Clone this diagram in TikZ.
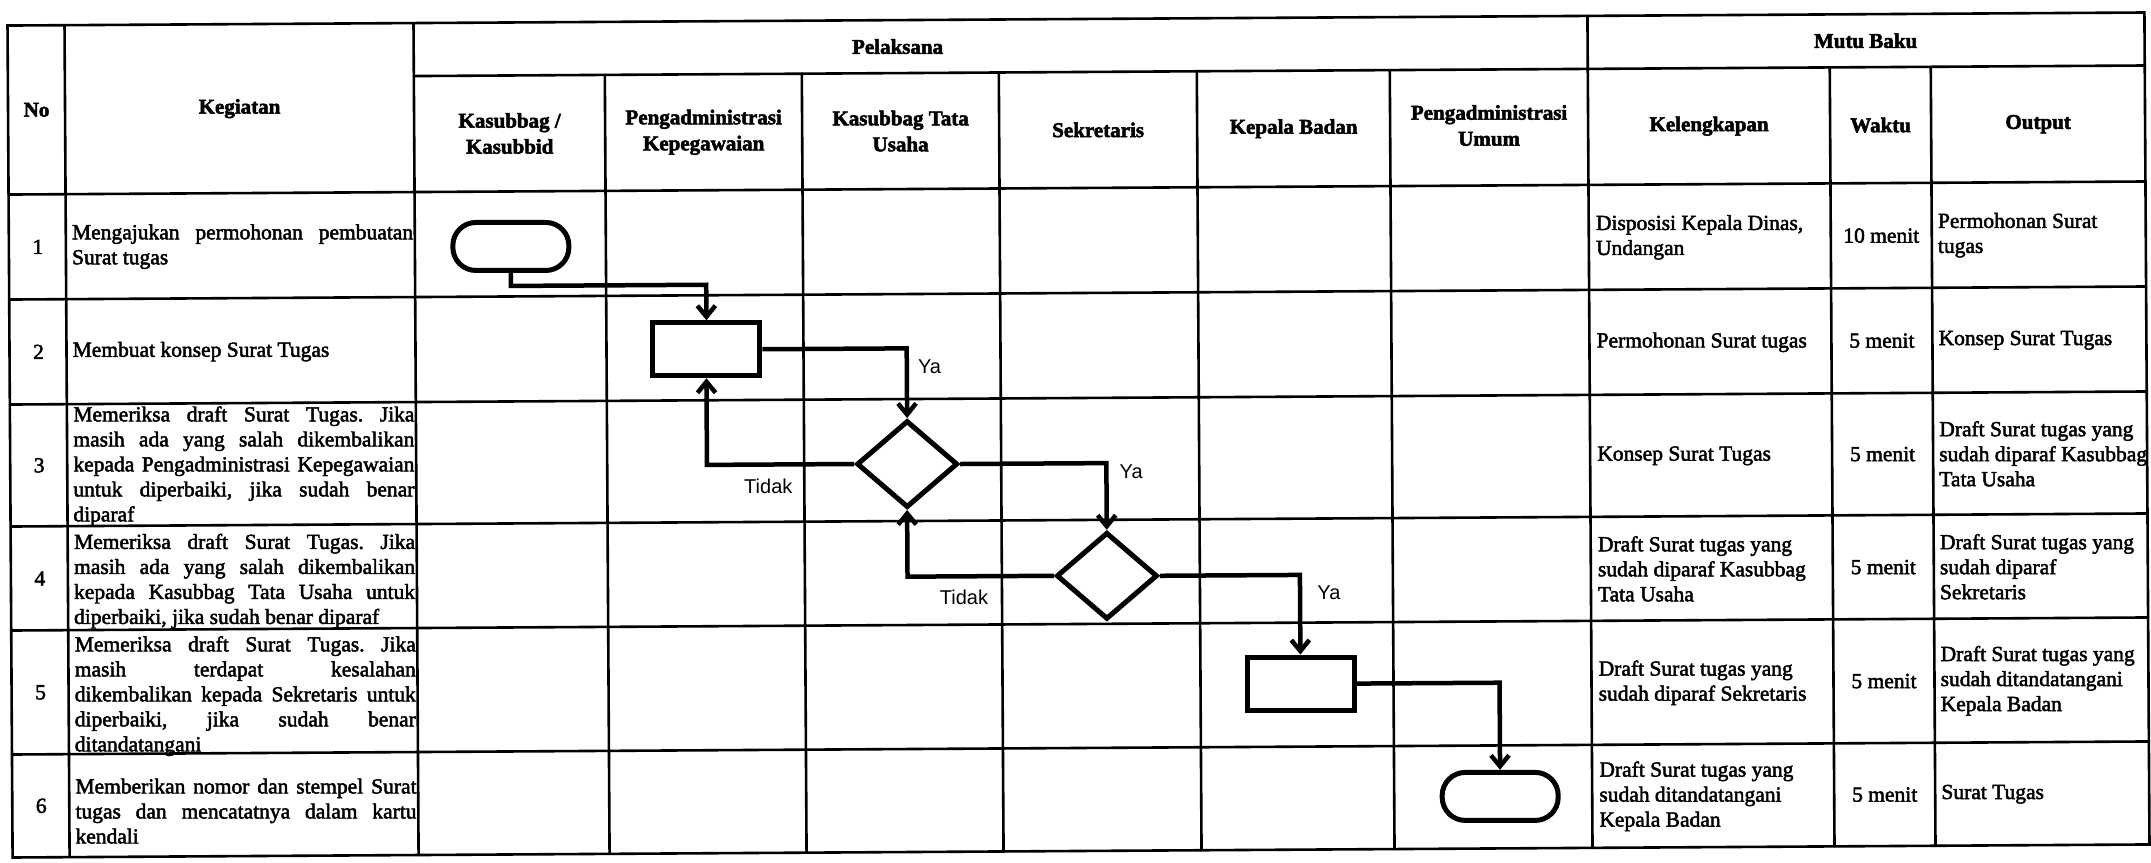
\documentclass[tikz,border=0pt]{standalone}
\usepackage{fontspec}
\setmainfont{Liberation Serif}[UprightFeatures={FakeBold=2.2},BoldFeatures={FakeBold=2.4}]
\newfontfamily\labelfont{Liberation Sans}
\usetikzlibrary{shapes.geometric,arrows.meta}
\frenchspacing

% width of one justified line in the "Kegiatan" column
\newlength\kgw
\setlength\kgw{341pt}
\newcommand\justline[1]{\makebox[\kgw][s]{#1}}

\begin{document}
\begin{tikzpicture}[x=1pt,y=-1pt,
  grid/.style={line width=2.6pt, line cap=round},
  cell/.style={inner sep=0pt, font=\fontsize{21.5}{25}\selectfont},
  head/.style={inner sep=0pt, align=center, font=\fontsize{21}{26}\selectfont\bfseries},
  body/.style={cell, align=left, anchor=west},
  flow/.style={line width=4.5pt, -{Straight Barb[length=11pt,width=18pt]}},
  terminal/.style={draw, line width=5pt, rounded corners=23pt, minimum width=116pt, minimum height=48pt, inner sep=0pt},
  process/.style={draw, line width=5pt, minimum width=107pt, minimum height=53pt, inner sep=0pt},
  decision/.style={draw, diamond, line width=5pt, minimum width=101pt, minimum height=87pt, inner sep=0pt},
  yn/.style={font=\labelfont\fontsize{20}{24}\selectfont, inner sep=0pt}
]
\fill[white] (0,0) rectangle (2151,862);
\useasboundingbox (0,0) rectangle (2151,862);

\begin{scope}[rotate around={0.35:(1078,435)}]
% ---------- table grid ----------
\draw[grid] (10,19) rectangle (2147,851);
\draw[grid] (416,72) -- (2147,72);
\foreach \y in {188,293,398,520,624,748}
  \draw[grid] (10,\y) -- (2147,\y);
\foreach \x in {67,416,1590}
  \draw[grid] (\x,19) -- (\x,851);
\foreach \x in {607,804,1001,1199,1392,1832,1933}
  \draw[grid] (\x,72) -- (\x,851);

% ---------- header ----------
\node[head] (hNo)  at (38.5,103.5) {No};
\node[head] (hKeg) at (241.5,103.5) {Kegiatan};
\node[head] (hPel) at (900,45.5) {Pelaksana};
\node[head] (hMut) at (1868,45.5) {Mutu Baku};
\node[head] (hKsb) at (511.5,130) {Kasubbag /\\Kasubbid};
\node[head] (hPK)  at (705.5,130) {Pengadministrasi\\Kepegawaian};
\node[head] (hKTU) at (902.5,130) {Kasubbag Tata\\Usaha};
\node[head] (hSek) at (1100,130) {Sekretaris};
\node[head] (hKB)  at (1295.5,130) {Kepala Badan};
\node[head] (hPU)  at (1491,128) {Pengadministrasi\\Umum};
\node[head] (hKel) at (1711,130) {Kelengkapan};
\node[head] (hWkt) at (1882.5,130) {Waktu};
\node[head] (hOut) at (2040,130) {Output};

% ---------- row numbers ----------
\foreach \n/\y in {1/240.5,2/345.5,3/459,4/572,5/686,6/799.5}
  \node[cell] (no\n) at (39,\y) {\n};

% ---------- activities ----------
\node[body] (k1) at (73,240.5) {\justline{Mengajukan permohonan pembuatan}\\Surat tugas};
\node[body] (k2) at (73,345.5) {Membuat konsep Surat Tugas};
\node[body] (k3) at (73,460) {\justline{Memeriksa draft Surat Tugas. Jika}\\
  \justline{masih ada yang salah dikembalikan}\\
  \justline{kepada Pengadministrasi Kepegawaian}\\
  \justline{untuk diperbaiki, jika sudah benar}\\diparaf};
\node[body] (k4) at (73,575) {\justline{Memeriksa draft Surat Tugas. Jika}\\
  \justline{masih ada yang salah dikembalikan}\\
  \justline{kepada Kasubbag Tata Usaha untuk}\\diperbaiki, jika sudah benar diparaf};
\node[body] (k5) at (73,690) {\justline{Memeriksa draft Surat Tugas. Jika}\\
  \justline{masih terdapat kesalahan}\\
  \justline{dikembalikan kepada Sekretaris untuk}\\
  \justline{diperbaiki, jika sudah benar}\\ditandatangani};
\node[body] (k6) at (73,805) {\justline{Memberikan nomor dan stempel Surat}\\
  \justline{tugas dan mencatatnya dalam kartu}\\kendali};

% ---------- quality standard: requirements ----------
\node[body] (l1) at (1597,240.5) {Disposisi Kepala Dinas,\\Undangan};
\node[body] (l2) at (1597,345.5) {Permohonan Surat tugas};
\node[body] (l3) at (1597,459) {Konsep Surat Tugas};
\node[body] (l4) at (1597,572) {Draft Surat tugas yang\\sudah diparaf Kasubbag\\Tata Usaha};
\node[body] (l5) at (1597,686) {Draft Surat tugas yang\\sudah diparaf Sekretaris};
\node[body] (l6) at (1597,799.5) {Draft Surat tugas yang\\sudah ditandatangani\\Kepala Badan};

% ---------- quality standard: time ----------
\node[cell] (w1) at (1882.5,240.5) {10 menit};
\foreach \n/\y in {2/345.5,3/459,4/572,5/686,6/799.5}
  \node[cell] (w\n) at (1882.5,\y) {5 menit};

% ---------- quality standard: output ----------
\node[body] (o1) at (1939,240.5) {Permohonan Surat\\tugas};
\node[body] (o2) at (1939,345.5) {Konsep Surat Tugas};
\node[body] (o3) at (1939,459) {Draft Surat tugas yang\\sudah diparaf Kasubbag\\Tata Usaha};
\node[body] (o4) at (1939,572) {Draft Surat tugas yang\\sudah diparaf\\Sekretaris};
\node[body] (o5) at (1939,686) {Draft Surat tugas yang\\sudah ditandatangani\\Kepala Badan};
\node[body] (o6) at (1939,799.5) {Surat Tugas};

% ---------- flowchart ----------
\node[terminal] (start) at (512,243) {};
\node[process]  (r1)    at (707,347) {};
\node[decision] (d1)    at (907,463) {};
\node[decision] (d2)    at (1106,576) {};
\node[process]  (r2)    at (1299,685) {};
\node[terminal] (stop)  at (1498,799) {};

\draw[flow] (start.south) -- ++(0,13) -| (r1.north);
\draw[flow] (r1.east) -| (d1.north);
\draw[flow] (d1.west) -| (r1.south);
\draw[flow] (d1.east) -| (d2.north);
\draw[flow] (d2.west) -| (d1.south);
\draw[flow] (d2.east) -| (r2.north);
\draw[flow] (r2.east) -| (stop.north);

\node[yn] (ya1)    at (930,366)  {Ya};
\node[yn] (tidak1) at (768,484)  {Tidak};
\node[yn] (ya2)    at (1131,472) {Ya};
\node[yn] (tidak2) at (963,597)  {Tidak};
\node[yn] (ya3)    at (1328,594) {Ya};
\end{scope}
\end{tikzpicture}
\end{document}
